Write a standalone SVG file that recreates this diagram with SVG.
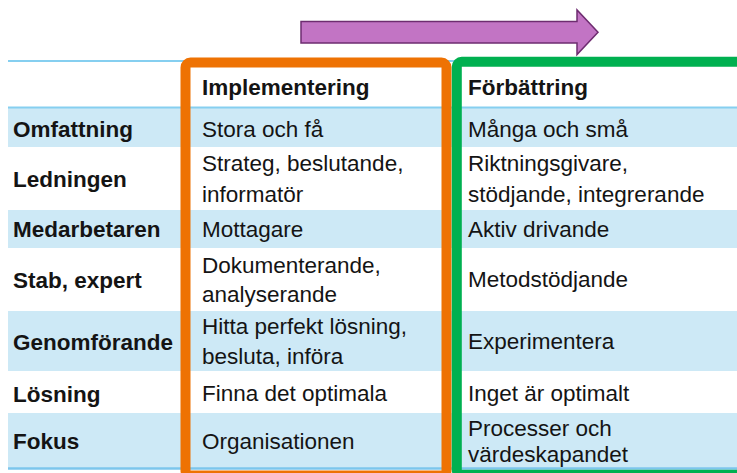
<svg xmlns="http://www.w3.org/2000/svg" width="737" height="473" viewBox="0 0 737 473">
<style>
text{font-family:"Liberation Sans",Arial,sans-serif;font-size:22.5px;fill:#141414}
.b{font-weight:bold}
.band{fill:#CDE9F6}
.rule{stroke:#86CFF0;stroke-width:2;fill:none}
</style>
<rect width="737" height="473" fill="#ffffff"/>
<g id="table-bg">
<rect class="band" x="8" y="108" width="729" height="39"/>
<rect class="band" x="8" y="210" width="729" height="38"/>
<rect class="band" x="8" y="311" width="729" height="60"/>
<rect class="band" x="8" y="413" width="729" height="55"/>
<line class="rule" x1="8" y1="61" x2="737" y2="61"/>
<line class="rule" x1="8" y1="107.5" x2="737" y2="107.5"/>
<line class="rule" x1="8" y1="468.5" x2="737" y2="468.5" style="stroke:#7CC6EC;stroke-width:2.5"/>
</g>
<g id="header">
<text class="b" x="202" y="94.5">Implementering</text>
<text class="b" x="468" y="94.5">Förbättring</text>
</g>
<g id="row-omfattning">
<text class="b" x="13" y="137">Omfattning</text>
<text x="202" y="137">Stora och få</text>
<text x="468" y="137">Många och små</text>
</g>
<g id="row-ledningen">
<text class="b" x="13" y="187">Ledningen</text>
<text x="202" y="171">Strateg, beslutande,</text>
<text x="202" y="202">informatör</text>
<text x="468" y="171">Riktningsgivare,</text>
<text x="468" y="202">stödjande, integrerande</text>
</g>
<g id="row-medarbetaren">
<text class="b" x="13" y="237">Medarbetaren</text>
<text x="202" y="237">Mottagare</text>
<text x="468" y="237">Aktiv drivande</text>
</g>
<g id="row-stab">
<text class="b" x="13" y="288">Stab, expert</text>
<text x="202" y="273">Dokumenterande,</text>
<text x="202" y="302">analyserande</text>
<text x="468" y="287">Metodstödjande</text>
</g>
<g id="row-genomforande">
<text class="b" x="13" y="350">Genomförande</text>
<text x="202" y="334">Hitta perfekt lösning,</text>
<text x="202" y="364">besluta, införa</text>
<text x="468" y="348.5">Experimentera</text>
</g>
<g id="row-losning">
<text class="b" x="13" y="401.5">Lösning</text>
<text x="202" y="400.5">Finna det optimala</text>
<text x="468" y="400.5">Inget är optimalt</text>
</g>
<g id="row-fokus">
<text class="b" x="13" y="448.5">Fokus</text>
<text x="202" y="448.5">Organisationen</text>
<text x="468" y="436">Processer och</text>
<text x="468" y="462">värdeskapandet</text>
</g>
<g id="box-implementering">
<rect x="185.5" y="62.5" width="261" height="413" rx="5" fill="none" stroke="#EE7203" stroke-width="10"/>
</g>
<g id="box-forbattring">
<rect x="456.8" y="61.8" width="290" height="413" rx="5" fill="none" stroke="#00B050" stroke-width="10"/>
</g>
<g id="connectors">
<g id="arrow">
<polygon points="301,21.5 577,21.5 577,10 598,32.3 577,54.5 577,43 301,43" fill="#C274C4" stroke="#6E2C70" stroke-width="1.5" stroke-linejoin="miter"/>
</g>
</g>
</svg>
